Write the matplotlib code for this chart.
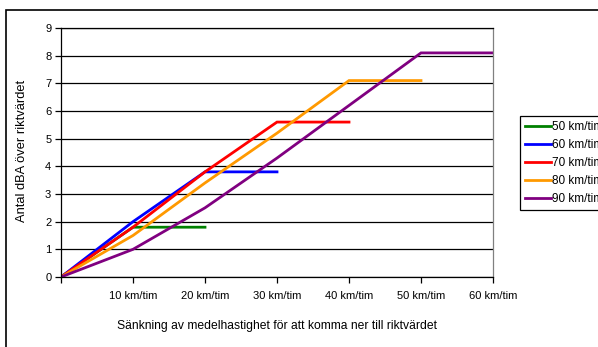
import numpy as np
import matplotlib
matplotlib.use("Agg")
import matplotlib.pyplot as plt
from matplotlib.patches import Rectangle

plt.rcParams['font.family'] = ['Liberation Sans', 'DejaVu Sans']

x_kmh = [0, 10, 20, 30, 40, 50, 60]
x_labels = ['', '10 km/tim', '20 km/tim', '30 km/tim', '40 km/tim', '50 km/tim', '60 km/tim']
series_names = ['50 km/tim', '60 km/tim', '70 km/tim', '80 km/tim', '90 km/tim']
v50 = [0, 1.8, 1.8]
v60 = [0, 2.0, 3.8, 3.8]
v70 = [0, 1.8, 3.8, 5.6, 5.6]
v80 = [0, 1.5, 3.4, 5.2, 7.1, 7.1]
v90 = [0, 1.0, 2.5, 4.3, 6.2, 8.1, 8.1]
colors = ['#008000', '#0000FF', '#FF0000', '#FF9900', '#800080']


def main():
    fig = plt.figure(figsize=(5.98, 3.47), dpi=100)
    ax = fig.add_axes([61 / 598, 1 - 277 / 347, 432 / 598, 249 / 347])

    for vals, name, c in zip([v50, v60, v70, v80, v90], series_names, colors):
        ax.plot(x_kmh[:len(vals)], vals, color=c, lw=2.0, label=name,
                solid_joinstyle='miter')

    ax.set_xlim(0, 60)
    ax.set_ylim(0, 9)
    ax.set_xticks(x_kmh)
    ax.set_xticklabels(x_labels)
    ax.set_yticks(range(10))
    ax.yaxis.grid(True, color='black', lw=0.9)
    ax.set_axisbelow(True)
    ax.tick_params(axis='both', direction='out', length=4, width=0.9,
                   labelsize=8, color='black')
    ax.tick_params(axis='x', pad=6)
    ax.tick_params(axis='y', pad=3)
    for s in ['left', 'bottom', 'top']:
        ax.spines[s].set_color('black')
        ax.spines[s].set_linewidth(0.9)
    ax.spines['right'].set_color('#808080')
    ax.spines['right'].set_linewidth(0.9)

    fig.text(277 / 598, 1 - 326 / 347,
             'Sänkning av medelhastighet för att komma ner till riktvärdet',
             ha='center', va='center', fontsize=8.7)
    fig.text(22 / 598, 1 - 151 / 347, 'Antal dBA över riktvärdet',
             ha='center', va='center', rotation=90, fontsize=9.3)

    leg = fig.legend(loc='upper left', bbox_to_anchor=(520 / 598, 1 - 116 / 347),
                     fontsize=8.5, frameon=True, fancybox=False, framealpha=1,
                     edgecolor='black', handlelength=2.2, handletextpad=0.1,
                     labelspacing=0.52, borderpad=0.4, borderaxespad=0)
    leg.get_frame().set_linewidth(0.9)

    border = Rectangle((6 / 598, -0.1), 1.0, 1.1 - 10 / 347,
                       transform=fig.transFigure, fill=False,
                       edgecolor='black', lw=1.2, clip_on=False)
    fig.patches.append(border)

    fig.savefig('out.png', dpi=100)


if __name__ == "__main__":
    main()
